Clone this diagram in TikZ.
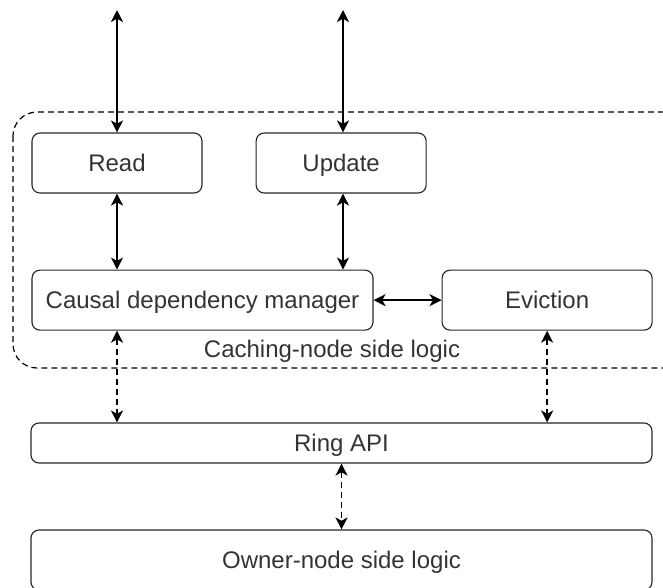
\documentclass[tikz,border=0pt]{standalone}
\usepackage{fontspec}
\setmainfont{Liberation Sans}
\usetikzlibrary{positioning, arrows.meta}

\tikzset{
	lbl/.style={font=\fontsize{18}{20}\selectfont, text=black!80, text height=15pt, text depth=2pt},
	blk/.style={lbl, draw=black!85, line width=0.85pt, rounded corners=6pt, minimum height=45pt, inner sep=0pt},
	arr/.style={{Stealth[length=9pt,width=9pt,inset=2.5pt]}-{Stealth[length=9pt,width=9pt,inset=2.5pt]}, line width=1.25pt},
	darr/.style={arr, dash pattern=on 4.5pt off 3pt}
}

\begin{document}
\begin{tikzpicture}[x=0.75pt, y=-0.75pt]
	\useasboundingbox (0,0) rectangle (663,587);

	\node[blk, minimum width=127.5pt] (read) at (117,163) {Read};
	\node[blk, minimum width=127.5pt, right=39.75pt of read] (update) {Update};
	\node[blk, minimum width=255.75pt, below=57pt of read.south west, anchor=north west] (cdm) {Causal dependency manager};
	\node[blk, minimum width=157.5pt, right=51pt of cdm] (evict) {Eviction};
	\node[blk, minimum width=465.75pt, minimum height=30pt] (ring) at (341.5,443) {Ring API};
	\node[blk, minimum width=465.75pt] (owner) at (341.5,560) {Owner-node side logic};

	% caching-node group
	\draw[line width=0.9pt, dash pattern=on 4.5pt off 3pt, rounded corners=18pt] (13,112) rectangle (690,368);
	\node[lbl] (cachelbl) at (332,349) {Caching-node side logic};

	\coordinate (readtop) at (117,10);
	\coordinate (updtop) at (343,10);

	\draw[arr] (readtop) -- (read);
	\draw[arr] (updtop) -- (updtop |- update.north);
	\draw[arr] (read.south) -- (read.south |- cdm.north);
	\draw[arr] (update.south -| updtop) -- (updtop |- cdm.north);
	\draw[arr] (cdm) -- (evict);

	\draw[darr] (cdm.south -| read) -- (ring.north -| read);
	\draw[darr] (evict.south) -- (evict.south |- ring.north);
	\draw[darr] (ring.south -| owner) -- (owner.north);
\end{tikzpicture}
\end{document}
